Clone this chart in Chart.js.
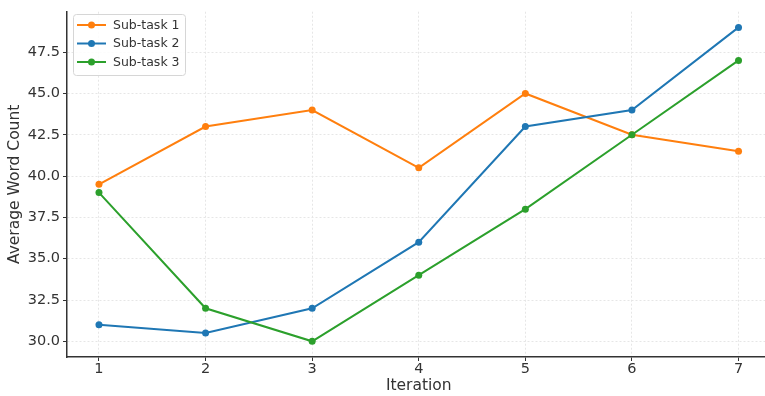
<!DOCTYPE html>
<html>
<head>
<meta charset="utf-8">
<script src="https://cdn.jsdelivr.net/npm/chart.js@4"></script>
<style>
html,body{margin:0;padding:0;background:#fff;overflow:hidden;}
#wrap{width:765px;height:396px;overflow:hidden;}
</style>
</head>
<body>
<div id="wrap"><canvas id="c" width="774" height="396"></canvas></div>
<script>
const iterations = [1, 2, 3, 4, 5, 6, 7];
const subTask1 = [39.5, 43, 44, 40.5, 45, 42.5, 41.5];
const subTask2 = [31, 30.5, 32, 36, 43, 44, 49];
const subTask3 = [39, 32, 30, 34, 38, 42.5, 47];
const seriesNames = ['Sub-task 1', 'Sub-task 2', 'Sub-task 3'];
const seriesColors = ['#ff7f0e', '#1f77b4', '#2ca02c'];
const yTicks = [30.0, 32.5, 35.0, 37.5, 40.0, 42.5, 45.0, 47.5];
const xTicks = [1, 2, 3, 4, 5, 6, 7];

const FONT = 'DejaVu Sans';
const TEXT = '#333333';

function toPoints(vals){ return iterations.map((x,i)=>({x:x, y:vals[i]})); }

const allSeries = [subTask1, subTask2, subTask3];
const datasets = allSeries.map((vals,i)=>({
  label: seriesNames[i],
  data: toPoints(vals),
  borderColor: seriesColors[i],
  backgroundColor: seriesColors[i],
  borderWidth: 2,
  pointRadius: 3.5,
  pointHoverRadius: 3.5,
  pointBorderWidth: 0,
  showLine: true,
  tension: 0,
  order: 2 - i
}));

const legendPlugin = {
  id: 'mplLegend',
  afterDraw(chart){
    const ctx = chart.ctx;
    const x0 = 73, y0 = 14, w = 112, h = 61;
    ctx.save();
    ctx.beginPath();
    if (ctx.roundRect) ctx.roundRect(x0+0.5, y0+0.5, w, h, 3); else ctx.rect(x0+0.5,y0+0.5,w,h);
    ctx.fillStyle = 'rgba(255,255,255,0.85)';
    ctx.fill();
    ctx.strokeStyle = '#d6d6d6';
    ctx.lineWidth = 1;
    ctx.stroke();
    const rows = [25, 43.5, 62];
    ctx.font = '12.5px "' + FONT + '"';
    ctx.textBaseline = 'middle';
    ctx.textAlign = 'left';
    seriesNames.forEach((name,i)=>{
      const y = rows[i];
      ctx.strokeStyle = seriesColors[i];
      ctx.lineWidth = 2;
      ctx.beginPath();
      ctx.moveTo(77, y);
      ctx.lineTo(106, y);
      ctx.stroke();
      ctx.fillStyle = seriesColors[i];
      ctx.beginPath();
      ctx.arc(91.5, y, 3.5, 0, Math.PI*2);
      ctx.fill();
      ctx.fillStyle = TEXT;
      ctx.fillText(name, 113, y + 0.5);
    });
    ctx.restore();
  }
};

new Chart(document.getElementById('c'), {
  type: 'scatter',
  data: { datasets },
  options: {
    responsive: false,
    animation: false,
    events: [],
    layout: { padding: { top: 7, right: 0, left: 0, bottom: 0 } },
    plugins: { legend: { display: false }, tooltip: { enabled: false } },
    scales: {
      x: {
        type: 'linear',
        min: 0.7,
        max: 7.3,
        afterBuildTicks(axis){ axis.ticks = xTicks.map(v=>({value:v})); },
        afterFit(axis){ axis.height = 39; },
        grid: {
          color: '#e6e6e6',
          lineWidth: 1,
          tickColor: '#333333',
          tickLength: 4,
          tickWidth: 1
        },
        border: { display: true, color: '#333333', width: 1.5, dash: [2, 2] },
        ticks: {
          color: TEXT,
          font: { family: FONT, size: 14.5 },
          padding: 0,
          maxRotation: 0,
          callback: v => String(v)
        },
        title: {
          display: true,
          text: 'Iteration',
          color: TEXT,
          font: { family: FONT, size: 15.5 },
          padding: { top: 0, bottom: 1 }
        }
      },
      y: {
        type: 'linear',
        min: 29.05,
        max: 49.95,
        afterBuildTicks(axis){ axis.ticks = yTicks.map(v=>({value:v})); },
        afterFit(axis){ axis.width = 67; },
        grid: {
          color: '#e6e6e6',
          lineWidth: 1,
          tickColor: '#333333',
          tickLength: 4,
          tickWidth: 1
        },
        border: { display: true, color: '#333333', width: 1.5, dash: [2, 2] },
        ticks: {
          color: TEXT,
          font: { family: FONT, size: 14.5 },
          padding: 3,
          callback: v => Number(v).toFixed(1)
        },
        title: {
          display: true,
          text: 'Average Word Count',
          color: TEXT,
          font: { family: FONT, size: 15.5 },
          padding: { top: 6, bottom: 0 }
        }
      }
    }
  },
  plugins: [legendPlugin]
});
</script>
</body>
</html>
